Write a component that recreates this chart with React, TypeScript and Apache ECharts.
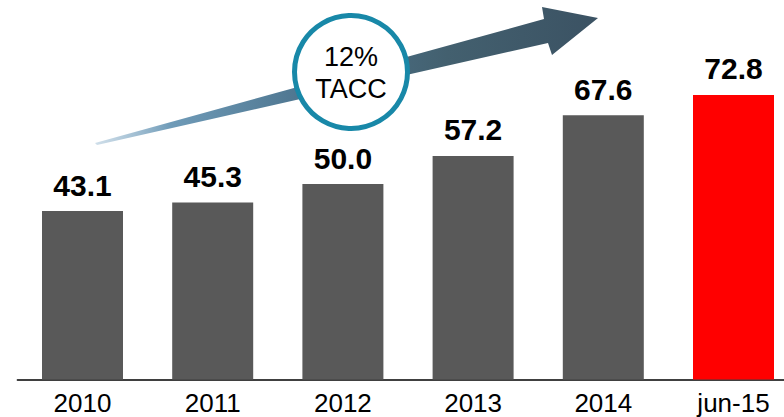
import React, { useEffect, useRef } from "react";
import * as echarts from "echarts";

const categories = ["2010", "2011", "2012", "2013", "2014", "jun-15"];
const values = [43.1, 45.3, 50.0, 57.2, 67.6, 72.8];
const badgeLines = ["12%", "TACC"];

const GRAY = "#595959";
const RED = "#ff0000";
const FONT = "'Liberation Sans', Arial, sans-serif";

export default function App() {
  const ref = useRef<HTMLDivElement>(null);
  useEffect(() => {
    if (!ref.current) return;
    const chart = echarts.init(ref.current, undefined, { renderer: "svg" });
    const last = categories.length - 1;
    chart.setOption({
      animation: false,
      grid: { left: 17.4, top: 27.7, width: 781.2, height: 351.8, containLabel: false },
      xAxis: {
        type: "category",
        data: categories,
        axisTick: { show: false },
        axisLine: { show: true, lineStyle: { color: "#000", width: 1.5 } },
        axisLabel: { color: "#000", fontSize: 26, fontFamily: FONT, margin: 10 },
      },
      yAxis: {
        type: "value",
        min: 0,
        max: 90,
        show: false,
        splitLine: { show: false },
      },
      series: [
        {
          type: "bar",
          data: values,
          barWidth: 81,
          itemStyle: {
            color: (p: any) => (p.dataIndex === last ? RED : GRAY),
          },
          label: {
            show: true,
            position: "top",
            distance: 11,
            color: "#000",
            fontSize: 30,
            fontWeight: "bold",
            fontFamily: FONT,
            formatter: (p: any) => Number(p.value).toFixed(1),
          },
        },
      ],
      graphic: [
        {
          type: "polygon",
          z: 10,
          shape: {
            points: [
              [95, 143],
              [544, 19],
              [542, 7],
              [598, 18],
              [552, 55],
              [548, 43],
              [97, 145],
            ],
          },
          style: {
            fill: {
              type: "linear",
              x: 0,
              y: 0,
              x2: 1,
              y2: 0,
              colorStops: [
                { offset: 0, color: "rgba(160,190,212,0.5)" },
                { offset: 0.15, color: "#6f9bb8" },
                { offset: 0.4, color: "#4f7791" },
                { offset: 0.7, color: "#43606f" },
                { offset: 1, color: "#3b5263" },
              ],
            },
          },
        },
        {
          type: "circle",
          z: 20,
          shape: { cx: 351, cy: 72, r: 56.5 },
          style: { fill: "#fff", stroke: "#1888a8", lineWidth: 5 },
        },
        {
          type: "text",
          z: 30,
          x: 351,
          y: 57,
          style: {
            text: badgeLines[0],
            fill: "#000",
            font: `27px ${FONT}`,
            textAlign: "center",
            textVerticalAlign: "middle",
          },
        },
        {
          type: "text",
          z: 30,
          x: 351,
          y: 89,
          style: {
            text: badgeLines[1],
            fill: "#000",
            font: `27px ${FONT}`,
            textAlign: "center",
            textVerticalAlign: "middle",
          },
        },
      ],
    });
    return () => chart.dispose();
  }, []);
  return (
    <div
      style={{ position: "fixed", left: 0, top: 0, width: 784, height: 417, overflow: "hidden", background: "#fff" }}
    >
      <div ref={ref} style={{ width: 820, height: 417 }} />
    </div>
  );
}
